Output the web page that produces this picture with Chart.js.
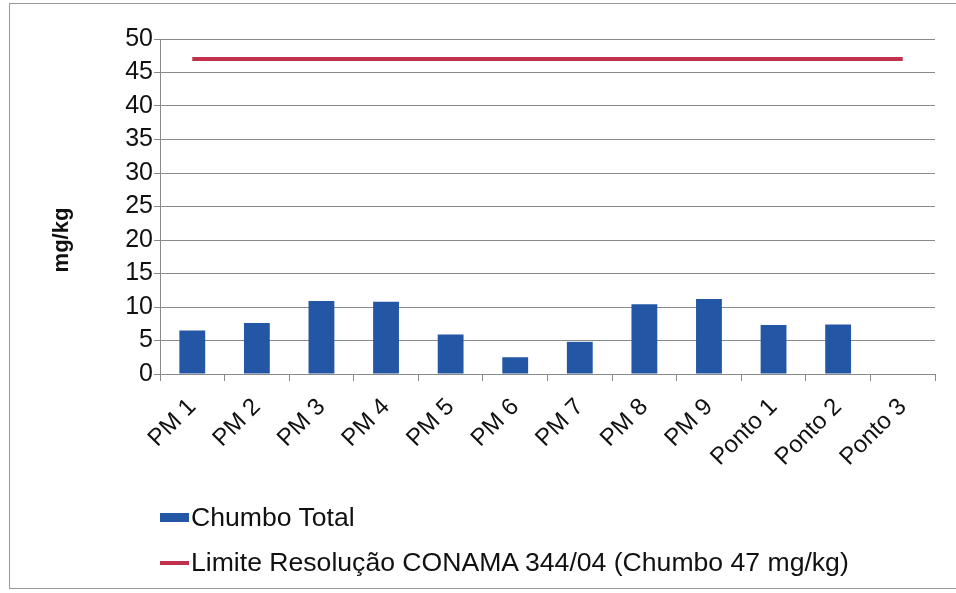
<!DOCTYPE html>
<html>
<head>
<meta charset="utf-8">
<script src="https://cdn.jsdelivr.net/npm/chart.js@4"></script>
<style>
    body { margin: 0; background: #fff; font-family: "Liberation Sans", Arial, sans-serif; }
    #wrap { position: relative; width: 956px; height: 593px; overflow: hidden; }
    #frame { position: absolute; left: 9px; top: 3px; width: 960px; height: 586px;
             border: 1px solid #9a9a9a; box-sizing: border-box; }
    #chart { position: absolute; left: 0; top: 0; }
    #legend { position: absolute; left: 160px; top: 495px; font-size: 26.6px; color: #111; }
    .item { display: flex; align-items: center; height: 45px; }
    .swatch { width: 29px; margin-right: 2px; }
</style>
</head>
<body>
<div id="wrap">
    <div id="frame"></div>
    <canvas id="chart" width="956" height="593"></canvas>
    <div id="legend"></div>
</div>
<script>
// ======================
// Dados do gráfico
// ======================

const pontos = ['PM 1', 'PM 2', 'PM 3', 'PM 4', 'PM 5', 'PM 6', 'PM 7', 'PM 8', 'PM 9', 'Ponto 1', 'Ponto 2', 'Ponto 3'];
const chumboTotal = [6.5, 7.6, 10.9, 10.8, 5.9, 2.5, 4.8, 10.4, 11.2, 7.3, 7.4, null];
const limiteConama = [47, 47, 47, 47, 47, 47, 47, 47, 47, 47, 47, 47];
const yTicks = [0, 5, 10, 15, 20, 25, 30, 35, 40, 45, 50];

const corBarra = '#2356a5';
const corLinha = '#c1314b';
const corGrade = '#8a8a8a';
const familia = '"Liberation Sans", Arial, sans-serif';

// Título do eixo Y (desenhado à parte, um pouco abaixo do centro como no original)
const tituloY = {
    id: 'tituloY',
    afterDraw(chart) {
        const ctx = chart.ctx;
        ctx.save();
        ctx.translate(62, 240);
        ctx.rotate(-Math.PI / 2);
        ctx.font = `bold 22px ${familia}`;
        ctx.fillStyle = '#111';
        ctx.textAlign = 'center';
        ctx.textBaseline = 'middle';
        ctx.fillText('mg/kg', 0, 0);
        ctx.restore();
    }
};

const chart = new Chart(document.getElementById('chart').getContext('2d'), {
    type: 'bar',
    data: {
        labels: pontos,
        datasets: [
            {
                type: 'line',
                label: 'Limite Resolução CONAMA 344/04 (Chumbo 47 mg/kg)',
                data: limiteConama,
                borderColor: corLinha,
                backgroundColor: corLinha,
                borderWidth: 4,
                pointRadius: 0,
                order: 0
            },
            {
                label: 'Chumbo Total',
                data: chumboTotal,
                backgroundColor: corBarra,
                barPercentage: 0.4,
                categoryPercentage: 1,
                order: 1
            }
        ]
    },
    options: {
        responsive: false,
        animation: false,
        layout: { padding: { left: 40, right: 21, top: 39, bottom: 119 } },
        plugins: {
            legend: { display: false },
            tooltip: { enabled: false }
        },
        scales: {
            x: {
                grid: { drawOnChartArea: false, color: corGrade, tickLength: 7, offset: true },
                border: { color: corGrade },
                ticks: { color: '#111', font: { family: familia, size: 24 },
                         minRotation: 45, maxRotation: 45, autoSkip: false, padding: 12 },
                afterFit: s => { s.height = 100; }
            },
            y: {
                min: 0,
                max: 50,
                afterBuildTicks: s => { s.ticks = yTicks.map(v => ({ value: v })); },
                grid: { color: corGrade, tickLength: 6 },
                border: { color: corGrade },
                ticks: { color: '#111', font: { family: familia, size: 25, lineHeight: 1 },
                         autoSkip: false, padding: 1 },
                afterFit: s => { s.width = 120; }
            }
        }
    },
    plugins: [tituloY]
});

// ======================
// Legenda (vertical, como no original)
// ======================

const legenda = document.getElementById('legend');
legenda.innerHTML = [chart.data.datasets[1], chart.data.datasets[0]].map(ds => {
    const h = ds.type === 'line' ? 4 : 9;
    const cor = ds.type === 'line' ? ds.borderColor : ds.backgroundColor;
    return `<div class="item"><span class="swatch" style="height:${h}px;background:${cor}"></span>${ds.label}</div>`;
}).join('');
</script>
</body>
</html>
